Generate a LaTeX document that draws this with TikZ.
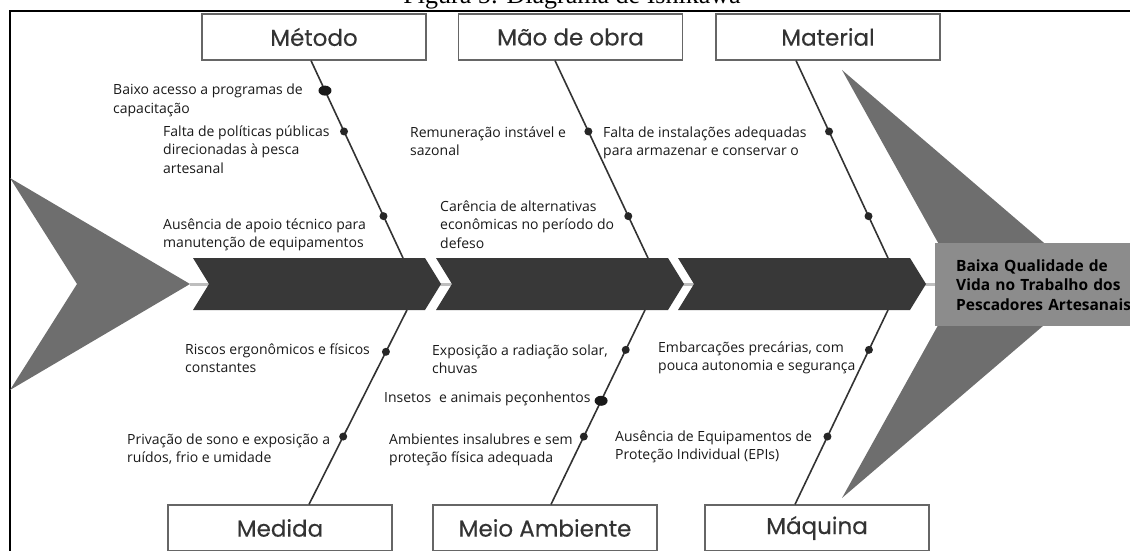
\documentclass[tikz,border=0pt]{standalone}
\usepackage{fontspec}
\setmainfont{Open Sans}
\newfontfamily\titlefont[FakeBold=0.3]{Poppins}
\newfontfamily\capfont{Liberation Serif}
\usetikzlibrary{calc,shapes.geometric}
\definecolor{chevgray}{HTML}{383838}
\definecolor{arrowgray}{HTML}{6E6E6E}
\definecolor{effectgray}{HTML}{8C8C8C}
\definecolor{spinegray}{HTML}{BEBEBE}
\definecolor{boxline}{HTML}{666666}
\definecolor{boneline}{HTML}{333333}
\tikzset{
frame/.style={line width=2pt, black},
bigarrow/.style={fill=arrowgray},
chevron/.style={fill=chevgray},
spine/.style={spinegray, line width=3pt},
catbox/.style={draw=boxline, line width=1.2pt, fill=white, minimum width=224pt, minimum height=46pt, inner sep=0pt, text=black!80, font=\titlefont\fontsize{23}{26}\selectfont},
effect/.style={fill=effectgray, anchor=north west, minimum height=83pt, text width=210pt, inner xsep=21pt, align=left, font=\bfseries\fontsize{15.5}{19.5}\selectfont},
bone/.style={draw=boneline, line width=1.6pt},
dot/.style={circle, fill=black!85, minimum size=8pt, inner sep=0pt},
bigdot/.style={ellipse, fill=black!90, minimum width=13pt, minimum height=10pt, inner sep=0pt},
cause/.style={anchor=base west, align=left, inner sep=0pt, text=black!90, font=\fontsize{14}{18.8}\selectfont},
}

\begin{document}
\begin{tikzpicture}[x=1pt,y=-1pt]
    \clip (0,0) rectangle (1130,551);

    % legenda e moldura
    \node[anchor=base, inner sep=0pt, font=\capfont\fontsize{26}{30}\selectfont] (legenda) at (572,4) {Figura 5: Diagrama de Ishikawa};
    \draw[frame] (1130,11) -- (10,11) -- (10,551);

    % cauda e cabeça
    \fill[bigarrow] (10,178) -- (190,284) -- (10,390) -- (77,284) -- cycle;
    \fill[bigarrow] (842,70) -- (1092,284) -- (842,498) -- (961,284) -- cycle;

    % espinha
    \draw[spine] (190,284) -- (940,284);
    \foreach \x in {193,436,678}
        \fill[chevron] (\x,258) -- ++(232,0) -- ++(16,26) -- ++(-16,26)
            -- ++(-232,0) -- ++(16,-26) -- cycle;

    % efeito
    \node[effect] (efeito) at (935,243) {Baixa Qualidade de\\Vida no Trabalho dos\\Pescadores Artesanais};

    % categorias
    \node[catbox] (metodo) at (314,37) {Método};
    \node[catbox] (maodeobra) at (570.5,37) {Mão de obra};
    \node[catbox] (material) at (828,37) {Material};
    \node[catbox] (medida) at (280,528) {Medida};
    \node[catbox] (meioamb) at (545,528) {Meio Ambiente};
    \node[catbox] (maquina) at (817,528) {Máquina};

    % pontos da espinha
    \coordinate (sm1) at (403,258);
    \coordinate (sm2) at (648,258);
    \coordinate (sm3) at (888,258);
    \coordinate (si1) at (407,310);
    \coordinate (si2) at (645,310);
    \coordinate (si3) at (888,310);

    % espinhas de cima
    \draw[bone] ([xshift=-3pt]metodo.south) -- (sm1)
        node[bigdot, pos=.152] (d11) {}
        node[dot, pos=.359] (d12) {}
        node[dot, pos=.788] (d13) {};
    \draw[bone] ([xshift=-15.5pt]maodeobra.south) -- (sm2)
        node[dot, pos=.359] (d21) {}
        node[dot, pos=.788] (d22) {};
    \draw[bone] ([xshift=-32pt]material.south) -- (sm3)
        node[dot, pos=.359] (d31) {}
        node[dot, pos=.788] (d32) {};

    % espinhas de baixo
    \draw[bone] (si1) -- ([xshift=29pt]medida.north)
        node[dot, pos=.215] (d41) {}
        node[dot, pos=.651] (d42) {};
    \draw[bone] (si2) -- ([xshift=6pt]meioamb.north)
        node[dot, pos=.205] (d51) {}
        node[bigdot, pos=.467] (d52) {}
        node[dot, pos=.651] (d53) {};
    \draw[bone] (si3) -- ([xshift=-22pt]maquina.north)
        node[dot, pos=.205] (d61) {}
        node[dot, pos=.651] (d62) {};

    % causas (ancoradas na linha de base da última linha)
    \node[cause] (c11) at (113,113.8) {Baixo acesso a programas de\\capacitação};
    \node[cause] (c12) at (163,173.6) {Falta de políticas públicas\\direcionadas à pesca\\artesanal};
    \node[cause] (c13) at (163,247.8) {Ausência de apoio técnico para\\manutenção de equipamentos};
    \node[cause] (c21) at (410,155.8) {Remuneração instável e\\sazonal};
    \node[cause] (c22) at (440,248.6) {Carência de alternativas\\econômicas no período do\\defeso};
    \node[cause] (c31) at (603,155.8) {Falta de instalações adequadas\\para armazenar e conservar o};
    \node[cause] (c41) at (185,372.8) {Riscos ergonômicos e físicos\\constantes};
    \node[cause] (c42) at (127,462.8) {Privação de sono e exposição a\\ruídos, frio e umidade};
    \node[cause] (c51) at (432,373.8) {Exposição a radiação solar,\\chuvas};
    \node[cause] (c52) at (384,402) {Insetos\hspace{0.3em} e animais peçonhentos};
    \node[cause] (c53) at (389,462.8) {Ambientes insalubres e sem\\proteção física adequada};
    \node[cause] (c61) at (658,370.8) {Embarcações precárias, com\\pouca autonomia e segurança};
    \node[cause] (c62) at (615,459.8) {Ausência de Equipamentos de\\Proteção Individual (EPIs)};
\end{tikzpicture}
\end{document}
